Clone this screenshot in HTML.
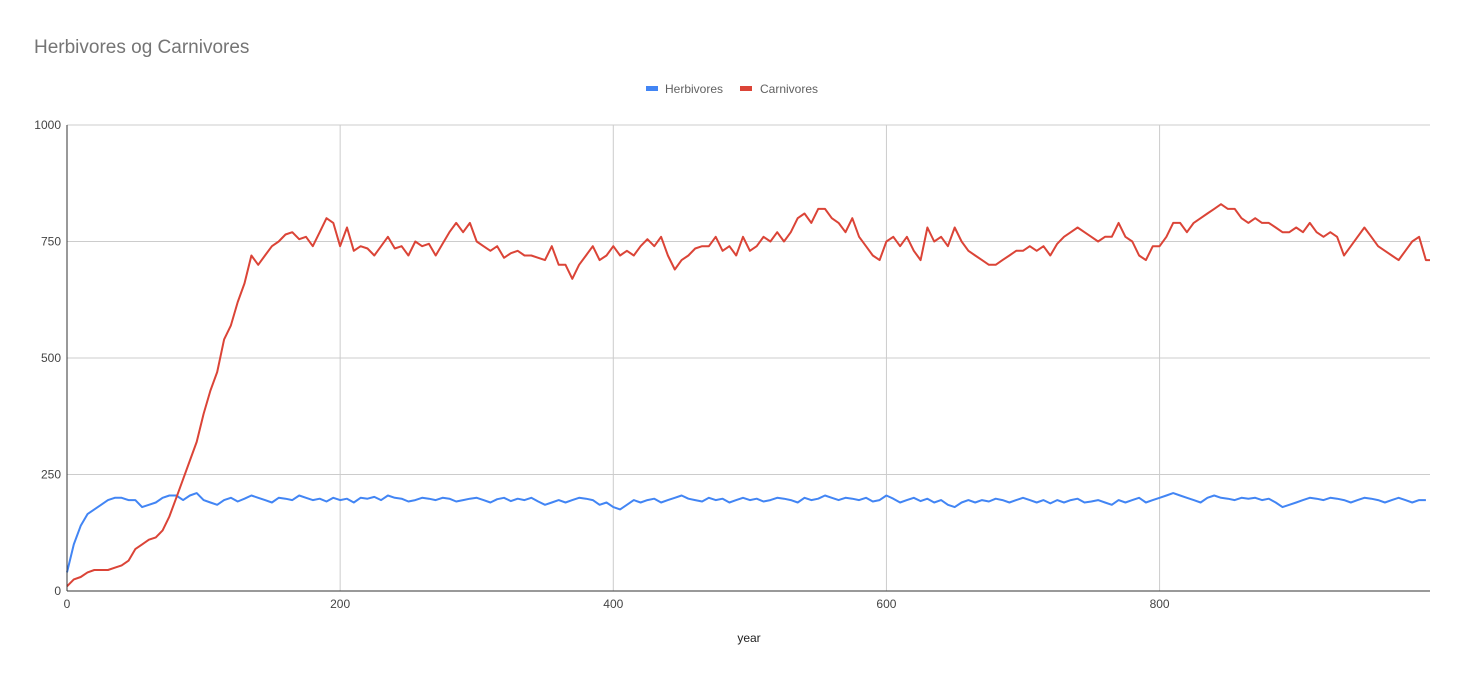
<!DOCTYPE html>
<html><head><meta charset="utf-8"><style>
html,body{margin:0;padding:0;background:#fff;}
svg{display:block;font-family:"Liberation Sans",Arial,sans-serif;}
</style></head><body>
<svg id="chart" width="1464" height="679" viewBox="0 0 1464 679">
<rect width="1464" height="679" fill="#fff"/>
<text x="34" y="53" font-size="19" fill="#757575">Herbivores og Carnivores</text>
<g>
<g><rect x="646" y="86" width="12" height="5" fill="#4285f4"/><text x="665" y="93" font-size="12" fill="#616161">Herbivores</text></g>
<g><rect x="740" y="86" width="12" height="5" fill="#db4437"/><text x="760" y="93" font-size="12" fill="#616161">Carnivores</text></g>
</g>
<g id="grid"></g>
<g id="series"></g>
<g id="axes"></g>
<text x="749" y="642" font-size="12" fill="#222" text-anchor="middle">year</text>
</svg>
<script>
const yTicks=[0,250,500,750,1000];
const xTicks=[0,200,400,600,800];
const years=[];for(let i=0;i<=199;i++)years.push(i*5);years.push(998);
const carnivores=[10,25,30,40,45,45,45,50,55,65,90,100,110,115,130,160,200,240,280,320,380,430,470,540,570,620,660,720,700,720,740,750,765,770,755,760,740,770,800,790,740,780,730,740,735,720,740,760,735,740,720,750,740,745,720,745,770,790,770,790,750,740,730,740,715,725,730,720,720,715,710,740,700,700,670,700,720,740,710,720,740,720,730,720,740,755,740,760,720,690,710,720,735,740,740,760,730,740,720,760,730,740,760,750,770,750,770,800,810,790,820,820,800,790,770,800,760,740,720,710,750,760,740,760,730,710,780,750,760,740,780,750,730,720,710,700,700,710,720,730,730,740,730,740,720,745,760,770,780,770,760,750,760,760,790,760,750,720,710,740,740,760,790,790,770,790,800,810,820,830,820,820,800,790,800,790,790,780,770,770,780,770,790,770,760,770,760,720,740,760,780,760,740,730,720,710,730,750,760,710,710];
const herbivores=[40,100,140,165,175,185,195,200,200,195,195,180,185,190,200,205,205,195,205,210,195,190,185,195,200,192,198,205,200,195,190,200,198,195,205,200,195,198,192,200,195,198,190,200,198,202,195,205,200,198,192,195,200,198,195,200,198,192,195,198,200,195,190,197,200,193,198,195,200,192,185,190,195,190,195,200,198,195,185,190,180,175,185,195,190,195,198,190,195,200,205,198,195,192,200,195,198,190,195,200,195,198,192,195,200,198,195,190,200,195,198,205,200,195,200,198,195,200,192,195,205,198,190,195,200,193,198,190,195,185,180,190,195,190,195,192,198,195,190,195,200,195,190,195,188,195,190,195,198,190,192,195,190,185,195,190,195,200,190,195,200,205,210,205,200,195,190,200,205,200,198,195,200,198,200,195,198,190,180,185,190,195,200,198,195,200,198,195,190,195,200,198,195,190,195,200,195,190,195,195];
const X0=67,X1=1430,Y0=591,Y1=125;
const xs=v=>X0+v/998*(X1-X0);
const ys=v=>Y0-v/1000*(Y0-Y1);
const NS="http://www.w3.org/2000/svg";
const grid=document.getElementById('grid'),axes=document.getElementById('axes'),ser=document.getElementById('series');
function mk(tag,attrs,parent){const e=document.createElementNS(NS,tag);for(const k in attrs)e.setAttribute(k,attrs[k]);parent.appendChild(e);return e;}
yTicks.forEach(t=>{
 const l=mk('line',{x1:X0,x2:X1,y1:ys(t),y2:ys(t),stroke:'#ccc','stroke-width':1},grid);
 
 
 const tx=mk('text',{x:X0-6,y:ys(t)+4,'font-size':12,fill:'#444','text-anchor':'end'},axes);
 tx.textContent=t;
 
 
});
xTicks.forEach(t=>{
 if(t>0){const l=mk('line',{x1:xs(t),x2:xs(t),y1:Y1,y2:Y0,stroke:'#ccc','stroke-width':1},grid);
 
 }
 const tx=mk('text',{x:xs(t),y:Y0+17,'font-size':12,fill:'#444','text-anchor':'middle'},axes);
 tx.textContent=t;
 
 
});
const ax=mk('line',{x1:X0,x2:X0,y1:Y1,y2:Y0,stroke:'#333','stroke-width':1},axes);


const bx=mk('line',{x1:X0,x2:X1,y1:Y0,y2:Y0,stroke:'#333','stroke-width':1},axes);


function line(vals,color,name){
 const d=vals.map((v,i)=>(i?'L':'M')+xs(years[i]).toFixed(1)+','+ys(v).toFixed(1)).join('');
 const p=mk('path',{d:d,fill:'none',stroke:color,'stroke-width':2,'stroke-linejoin':'round'},ser);
 
 
}
line(herbivores,'#4285f4','herbivores-line');
line(carnivores,'#db4437','carnivores-line');
</script>
</body></html>
